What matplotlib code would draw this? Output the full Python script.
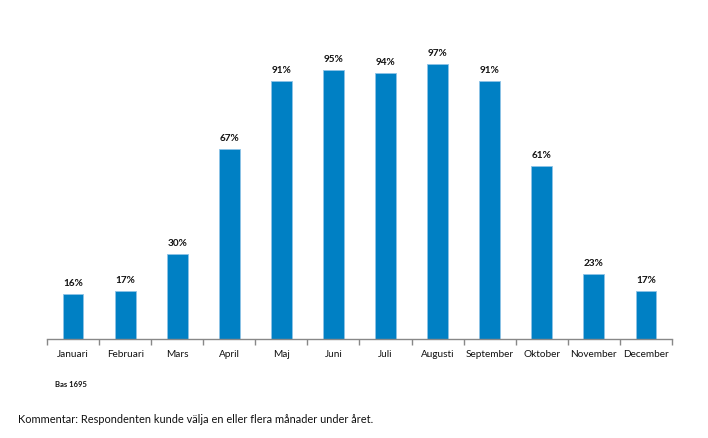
import matplotlib.pyplot as plt
import numpy as np

plt.rcParams['font.family'] = ['Lato', 'DejaVu Sans']

# data
months = ["Januari", "Februari", "Mars", "April", "Maj", "Juni", "Juli",
          "Augusti", "September", "Oktober", "November", "December"]
values = [16, 17, 30, 67, 91, 95, 94, 97, 91, 61, 23, 17]

bar_color = "#0080C4"

fig = plt.figure(figsize=(7.08, 4.39), dpi=100)
ax = fig.add_axes([0.0664, 0.2255, 0.8827, 0.6458])

x = np.arange(len(months))
ax.bar(x, values, width=0.4, color=bar_color, edgecolor="#8EC3E6", linewidth=0.6)

for xi, v in zip(x, values):
    ax.annotate(f"{v}%", (xi, v), xytext=(0, 5), textcoords="offset points",
                ha="center", va="bottom", fontsize=7.2, fontweight="bold", color="#111111")

ax.set_xlim(-0.5, len(months) - 0.5)
ax.set_ylim(0, 100)
ax.set_yticks([])

# category labels, tick marks on the boundaries
ax.set_xticks(x)
ax.set_xticklabels(months, fontsize=7.2, color="#111111")
ax.tick_params(axis="x", which="major", length=0, pad=7)
ax.set_xticks(np.arange(-0.5, len(months)), minor=True)
ax.tick_params(axis="x", which="minor", length=4, width=1, color="#888888", direction="out")

for side in ["top", "right", "left"]:
    ax.spines[side].set_visible(False)
ax.spines["bottom"].set_color("#888888")
ax.spines["bottom"].set_linewidth(1)

fig.text(55 / 708, 1 - 385 / 439, "Bas 1695", fontsize=5.5, fontweight="bold",
         ha="left", va="center", color="#111111")
fig.text(18 / 708, 1 - 420 / 439,
         "Kommentar: Respondenten kunde välja en eller flera månader under året.",
         fontsize=7.9, ha="left", va="center", color="#111111")

plt.savefig("out.png", dpi=100)
plt.close()
